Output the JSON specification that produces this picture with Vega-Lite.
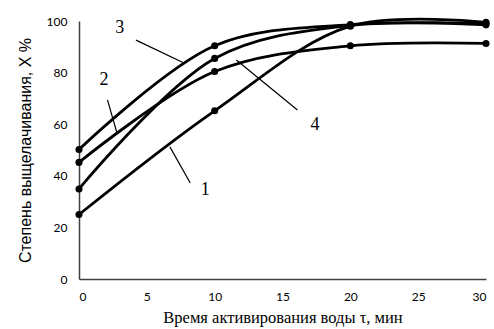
{
  "$schema": "https://vega.github.io/schema/vega-lite/v6.json",
  "width": 407,
  "height": 258,
  "autosize": "none",
  "padding": {"left": 79, "top": 21, "right": 8, "bottom": 50},
  "background": "white",
  "config": {"view": {"stroke": null}},
  "datasets": {
    "curves": [
      {"curve": "1", "t": 0, "x": 25}, {"curve": "1", "t": 10, "x": 65.2}, {"curve": "1", "t": 20, "x": 98}, {"curve": "1", "t": 30, "x": 99.5},
      {"curve": "2", "t": 0, "x": 45.2}, {"curve": "2", "t": 10, "x": 80.4}, {"curve": "2", "t": 20, "x": 90.4}, {"curve": "2", "t": 30, "x": 91.3},
      {"curve": "3", "t": 0, "x": 50.2}, {"curve": "3", "t": 10, "x": 90.4}, {"curve": "3", "t": 20, "x": 98.6}, {"curve": "3", "t": 30, "x": 99},
      {"curve": "4", "t": 0, "x": 34.9}, {"curve": "4", "t": 10, "x": 85.5}, {"curve": "4", "t": 20, "x": 98.3}, {"curve": "4", "t": 30, "x": 98.5}
    ],
    "labels": [
      {"label": "1", "lx": 9.3, "ly": 34.5, "x1": 8.2, "y1": 37.2, "x2": 6.7, "y2": 51.2},
      {"label": "2", "lx": 1.85, "ly": 77, "x1": 2.1, "y1": 69.4, "x2": 2.8, "y2": 56.6},
      {"label": "3", "lx": 3.0, "ly": 97.3, "x1": 4.2, "y1": 92.6, "x2": 7.7, "y2": 83.8},
      {"label": "4", "lx": 17.4, "ly": 59.7, "x1": 16.1, "y1": 65.5, "x2": 11.6, "y2": 84.9}
    ]
  },
  "layer": [
    {
      "data": {"name": "curves"},
      "mark": {"type": "line", "interpolate": "catmull-rom", "color": "black", "strokeWidth": 2.8},
      "encoding": {
        "x": {"field": "t", "type": "quantitative", "scale": {"domain": [0, 30], "nice": false},
          "axis": {"values": [0, 5, 10, 15, 20, 25, 30], "grid": false, "ticks": false, "domainColor": "#404040", "domainWidth": 1.5,
            "labelFont": "Lato", "labelFontSize": 12, "labelColor": "black", "labelPadding": 12,
            "title": "Время активирования воды τ, мин", "titleFont": "Liberation Serif", "titleFontSize": 16.5, "titleFontWeight": "normal", "titleColor": "black", "titlePadding": 7}},
        "y": {"field": "x", "type": "quantitative", "scale": {"domain": [0, 100], "nice": false},
          "axis": {"values": [0, 20, 40, 60, 80, 100], "grid": false, "ticks": false, "domainColor": "#404040", "domainWidth": 1.5,
            "labelFont": "Lato", "labelFontSize": 12, "labelColor": "black", "labelPadding": 12,
            "title": "Степень выщелачивания, X %", "titleFont": "Liberation Sans", "titleFontSize": 16, "titleFontWeight": "normal", "titleColor": "black", "titlePadding": 13}},
        "detail": {"field": "curve"}
      }
    },
    {
      "data": {"name": "curves"},
      "mark": {"type": "point", "filled": true, "color": "black", "opacity": 1, "size": 50},
      "encoding": {
        "x": {"field": "t", "type": "quantitative"},
        "y": {"field": "x", "type": "quantitative"}
      }
    },
    {
      "data": {"name": "labels"},
      "mark": {"type": "rule", "color": "black", "strokeWidth": 1.2},
      "encoding": {
        "x": {"field": "x1", "type": "quantitative"},
        "y": {"field": "y1", "type": "quantitative"},
        "x2": {"field": "x2"},
        "y2": {"field": "y2"}
      }
    },
    {
      "data": {"name": "labels"},
      "mark": {"type": "text", "font": "Liberation Serif", "fontSize": 18, "color": "black"},
      "encoding": {
        "x": {"field": "lx", "type": "quantitative"},
        "y": {"field": "ly", "type": "quantitative"},
        "text": {"field": "label"}
      }
    }
  ]
}
